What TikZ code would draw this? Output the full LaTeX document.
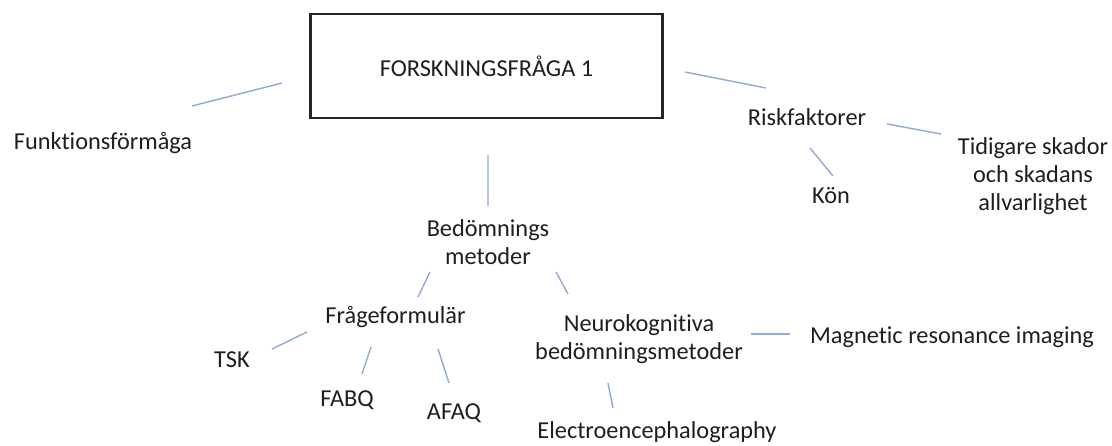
\documentclass[tikz,border=0pt]{standalone}
\usepackage{fontspec}
\setmainfont{Carlito}[RawFeature={-liga}]
\usepackage{xcolor}
\usepackage{tikz}
\usetikzlibrary{calc}

\definecolor{linkblue}{RGB}{143,170,212}
\definecolor{textgray}{RGB}{30,30,30}

\begin{document}
\begin{tikzpicture}[x=0.025cm,y=-0.025cm,
		every node/.style={font=\fontsize{17.3pt}{19.8pt}\selectfont,text=textgray,align=center,inner sep=0pt},
		link/.style={draw=linkblue,line width=1pt},
		mainbox/.style={draw=black!85,line width=1.6pt,minimum width=8.8cm,minimum height=2.6cm}]
				\useasboundingbox (0,0) rectangle (1112,446);
				% the question and its three branches
				\node[mainbox] (box) at (486.5,66) {FORSKNINGSFRÅGA 1};
				\node (funk) at (103,143) {Funktionsförmåga};
				\node (risk) at (807,117) {Riskfaktorer};
				\node (tid) at (1033,176) {Tidigare skador\\och skadans\\allvarlighet};
				\node (kon) at (831,196) {Kön};
				\node (bed) at (488,242) {Bedömnings\\metoder};
				% methods
				\node (frage) at (395.5,317) {Frågeformulär};
				\node (neuro) at (639,339) {Neurokognitiva\\bedömningsmetoder};
				\node (tsk) at (232,360) {TSK};
				\node (fabq) at (347,400) {FABQ};
				\node (afaq) at (454,413) {AFAQ};
				\node (mri) at (952,337) {Magnetic resonance imaging};
				\node (eeg) at (657,432) {Electroencephalography};
				% lines
				\draw[link] ($(funk)+(89,-37)$) -- ($(box)+(-204.5,17)$);
				\draw[link] ($(box)+(198.5,6)$) -- ($(risk)+(-41,-29)$);
				\draw[link] ($(risk)+(80,7)$) -- ($(tid)+(-92,-42)$);
				\draw[link] ($(risk)+(3,31)$) -- ($(kon)+(2,-20)$);
				\draw[link] ($(box)+(1.5,89)$) -- ($(bed)+(0,-36)$);
				\draw[link] ($(bed)+(-58,30)$) -- ($(frage)+(22.5,-20)$);
				\draw[link] ($(bed)+(68,30)$) -- ($(neuro)+(-71,-45)$);
				\draw[link] ($(neuro)+(112,-5)$) -- ($(mri)+(-162,-3)$);
				\draw[link] ($(neuro)+(-31,44)$) -- ($(eeg)+(-44,-24)$);
				\draw[link] ($(frage)+(-88.5,15)$) -- ($(tsk)+(40,-11)$);
				\draw[link] ($(frage)+(-24.5,30)$) -- ($(fabq)+(15,-26)$);
				\draw[link] ($(frage)+(42.5,32)$) -- ($(afaq)+(-5,-30)$);
		\end{tikzpicture}
\end{document}
